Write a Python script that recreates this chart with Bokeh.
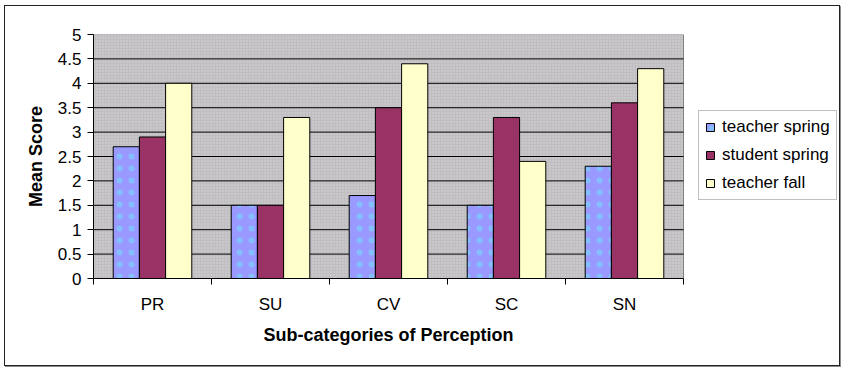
from bokeh.plotting import figure
from bokeh.models import (Range1d, FixedTicker, NumeralTickFormatter, ColumnDataSource,
                          Legend, Title)
from bokeh.embed import file_html
from bokeh.resources import INLINE

# ---- data ----
categories = ["PR", "SU", "CV", "SC", "SN"]
teacher_spring = [2.7, 1.5, 1.7, 1.5, 2.3]
student_spring = [2.9, 1.5, 3.5, 3.3, 3.6]
teacher_fall = [4.0, 3.3, 4.4, 2.4, 4.3]
series_names = ["teacher spring", "student spring", "teacher fall"]
series_colors = ["#9999ff", "#993366", "#ffffcc"]
y_ticks = [0, 0.5, 1, 1.5, 2, 2.5, 3, 3.5, 4, 4.5, 5]
x_title = "Sub-categories of Perception"
y_title = "Mean Score"

FONT = "Liberation Sans"
W, H = 836, 361
LEFT, TOP, BOTTOM = 88, 28, 89
PLOT_W = 590                      # pixel width of the category area
FRAME_W = W - LEFT                # frame extends under the legend
n = len(categories)
y_max = 5

p = figure(width=W, height=H, output_backend="svg", toolbar_location=None,
           x_range=Range1d(0, n * FRAME_W / PLOT_W), y_range=Range1d(0, y_max),
           min_border_left=LEFT, min_border_right=0, min_border_top=TOP,
           min_border_bottom=BOTTOM)

# outer chart border (CSS on the plot element)
p.styles = {"margin": "5px 0 0 4px", "border": "1px solid #222222",
            "box-shadow": "1px 1px 0 #8a8a8a"}

p.background_fill_color = "white"
p.border_fill_color = "white"
p.outline_line_color = None
p.xgrid.visible = False
p.ygrid.visible = False

# plot area background + outline
p.quad(left=[0], right=[n], bottom=[0], top=[y_max],
       fill_color="#c0bec0", line_color="#808080", line_width=1,
       hatch_pattern="dot", hatch_color="#dcd6dc", hatch_scale=3, hatch_weight=1)

# horizontal gridlines
grid_y = y_ticks[1:-1]
p.segment(x0=[0] * len(grid_y), x1=[n] * len(grid_y), y0=grid_y, y1=grid_y,
          line_color="black", line_width=1)

centers = [i + 0.5 for i in range(n)]
bw = 0.222
offsets = [-bw, 0.0, bw]
series = [teacher_spring, student_spring, teacher_fall]

items = []
for k, (name, color, vals, off) in enumerate(zip(series_names, series_colors, series, offsets)):
    src = ColumnDataSource(dict(x=[c + off for c in centers], top=vals))
    extra = dict(hatch_pattern="dot", hatch_color="#80c8ff", hatch_scale=12,
                 hatch_weight=1, hatch_alpha=0.8) if k == 0 else {}
    r = p.vbar(x="x", top="top", width=bw, bottom=0, source=src,
               fill_color=color, line_color="black", line_width=1, **extra)
    items.append((name, [r]))

# y axis
ya = p.yaxis[0]
ya.ticker = FixedTicker(ticks=y_ticks, minor_ticks=[])
ya.formatter = NumeralTickFormatter(format="0.[0]")
ya.axis_line_color = "black"
ya.major_tick_line_color = "black"
ya.major_tick_out = 6
ya.major_tick_in = 0
ya.minor_tick_line_color = None
ya.major_label_standoff = 6
ya.major_label_text_font = FONT
ya.major_label_text_font_size = "17px"
ya.major_label_text_color = "black"
ya.axis_label = y_title
ya.axis_label_text_font = FONT
ya.axis_label_text_font_size = "18px"
ya.axis_label_text_font_style = "bold"
ya.axis_label_text_color = "black"
ya.axis_label_standoff = 9

# x axis
xa = p.xaxis[0]
xa.bounds = (0, n)
xa.ticker = FixedTicker(ticks=centers, minor_ticks=list(range(n + 1)))
xa.major_label_overrides = {c: cat for c, cat in zip(centers, categories)}
xa.axis_line_color = "black"
xa.major_tick_out = 0
xa.major_tick_in = 0
xa.major_tick_line_color = None
xa.minor_tick_line_color = "black"
xa.minor_tick_out = 6
xa.minor_tick_in = 0
xa.major_label_standoff = 10
xa.major_label_text_font = FONT
xa.major_label_text_font_size = "17px"
xa.major_label_text_color = "black"

# x axis title, centred under the category area (not the whole frame)
xt = Title(text=x_title, align="left", offset=PLOT_W / 2 - 125,
           text_font=FONT, text_font_size="18px", text_font_style="bold",
           text_color="black", standoff=12)
p.add_layout(xt, "below")

legend = Legend(items=items, location=(PLOT_W + 15, 78))
legend.border_line_color = "#808080"
legend.border_line_width = 1
legend.background_fill_color = "white"
legend.background_fill_alpha = 1
legend.label_text_font = FONT
legend.label_text_font_size = "17px"
legend.label_text_color = "black"
legend.glyph_width = 10
legend.glyph_height = 10
legend.label_height = 20
legend.label_standoff = 7
legend.spacing = 8
legend.padding = 6
legend.margin = 0
p.add_layout(legend, "center")

open("out.html", "w").write(file_html(p, INLINE))
